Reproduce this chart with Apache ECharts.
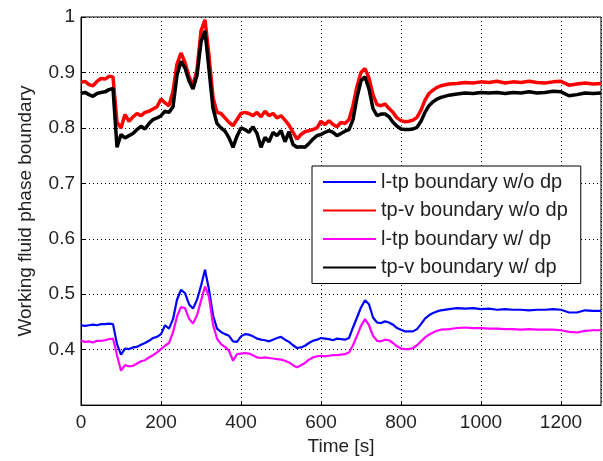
<!DOCTYPE html>
<html>
<head>
<meta charset="utf-8">
<script src="https://cdn.jsdelivr.net/npm/echarts@6/dist/echarts.min.js"></script>
<style>
  html, body { margin: 0; padding: 0; background: #fff; }
  #chart { width: 603px; height: 461px; }
</style>
</head>
<body>
<div id="chart"></div>
<script>
// time axis [s]
const timeS = [
  0, 10, 20, 30, 40, 50, 60, 70, 80, 90,
  100, 110, 120, 130, 140, 150, 160, 170, 180, 190,
  200, 210, 220, 230, 240, 250, 260, 270, 280, 290,
  300, 310, 320, 330, 340, 350, 360, 370, 380, 390,
  400, 410, 420, 430, 440, 450, 460, 470, 480, 490,
  500, 510, 520, 530, 540, 550, 560, 570, 580, 590,
  600, 610, 620, 630, 640, 650, 660, 670, 680, 690,
  700, 710, 720, 730, 740, 750, 760, 770, 780, 790,
  800, 810, 820, 830, 840, 850, 860, 870, 880, 890,
  900,
  920, 940, 960, 980, 1000, 1020, 1040, 1060, 1080, 1100,
  1120, 1140, 1160, 1180, 1200, 1220, 1240, 1260, 1280, 1300
]

// l-tp boundary w/o dp (blue)
const ltpNoDp = [
  0.444, 0.443, 0.444, 0.445, 0.444, 0.446, 0.446, 0.447, 0.446, 0.410,
  0.391, 0.402, 0.401, 0.404, 0.405, 0.409, 0.412, 0.416, 0.421, 0.423,
  0.428, 0.444, 0.438, 0.455, 0.490, 0.508, 0.502, 0.482, 0.474, 0.490,
  0.515, 0.544, 0.508, 0.462, 0.438, 0.432, 0.428, 0.425, 0.415, 0.414,
  0.424, 0.428, 0.427, 0.424, 0.420, 0.418, 0.417, 0.415, 0.418, 0.421,
  0.423, 0.418, 0.414, 0.408, 0.403, 0.404, 0.407, 0.412, 0.416, 0.418,
  0.421, 0.420, 0.419, 0.417, 0.420, 0.419, 0.418, 0.421, 0.440, 0.458,
  0.476, 0.489, 0.482, 0.458, 0.449, 0.448, 0.451, 0.449, 0.445, 0.439,
  0.436, 0.433, 0.433, 0.433, 0.437, 0.446, 0.456, 0.462, 0.466, 0.469,
  0.471,
  0.473, 0.475, 0.474, 0.475, 0.473, 0.474, 0.472, 0.473, 0.472, 0.472,
  0.471, 0.472, 0.472, 0.473, 0.472, 0.467, 0.467, 0.471, 0.470, 0.470
]

// tp-v boundary w/o dp (red)
const tpvNoDp = [
  0.882, 0.884, 0.878, 0.876, 0.884, 0.889, 0.888, 0.893, 0.892, 0.810,
  0.800, 0.824, 0.812, 0.820, 0.826, 0.822, 0.828, 0.830, 0.834, 0.838,
  0.852, 0.845, 0.840, 0.866, 0.915, 0.935, 0.918, 0.893, 0.876, 0.905,
  0.975, 0.995, 0.930, 0.855, 0.828, 0.826, 0.818, 0.810, 0.804, 0.815,
  0.826, 0.828, 0.826, 0.822, 0.828, 0.820, 0.830, 0.822, 0.826, 0.818,
  0.822, 0.814, 0.805, 0.792, 0.780, 0.788, 0.793, 0.795, 0.797, 0.800,
  0.812, 0.806, 0.813, 0.806, 0.802, 0.810, 0.808, 0.815, 0.840, 0.875,
  0.900, 0.907, 0.890, 0.860, 0.842, 0.840, 0.843, 0.835, 0.828, 0.818,
  0.813, 0.811, 0.812, 0.814, 0.819, 0.832, 0.850, 0.862, 0.868, 0.873,
  0.876,
  0.879, 0.880, 0.882, 0.881, 0.883, 0.882, 0.884, 0.881, 0.883, 0.882,
  0.884, 0.882, 0.881, 0.883, 0.884, 0.877, 0.879, 0.881, 0.879, 0.880
]

// l-tp boundary w/ dp (magenta)
const ltpDp = [
  0.416, 0.414, 0.415, 0.413, 0.416, 0.416, 0.417, 0.419, 0.420, 0.390,
  0.362, 0.372, 0.370, 0.371, 0.375, 0.379, 0.381, 0.386, 0.390, 0.395,
  0.401, 0.407, 0.412, 0.431, 0.460, 0.477, 0.475, 0.456, 0.447, 0.462,
  0.488, 0.514, 0.495, 0.445, 0.420, 0.410, 0.405, 0.398, 0.380, 0.392,
  0.393, 0.394, 0.393, 0.390, 0.386, 0.385, 0.386, 0.385, 0.384, 0.383,
  0.382, 0.380, 0.377, 0.372, 0.368, 0.372, 0.376, 0.382, 0.386, 0.388,
  0.389, 0.388, 0.389, 0.390, 0.390, 0.391, 0.392, 0.395, 0.408, 0.425,
  0.443, 0.455, 0.444, 0.425, 0.416, 0.415, 0.418, 0.417, 0.412, 0.406,
  0.402, 0.401, 0.401, 0.403, 0.408, 0.415, 0.422, 0.427, 0.431, 0.434,
  0.436,
  0.437, 0.439, 0.440, 0.439, 0.439, 0.438, 0.438, 0.437, 0.437, 0.436,
  0.437, 0.436, 0.436, 0.436, 0.435, 0.432, 0.431, 0.434, 0.435, 0.435
]

// tp-v boundary w/ dp (black)
const tpvDp = [
  0.862, 0.864, 0.860, 0.857, 0.862, 0.864, 0.865, 0.869, 0.871, 0.765,
  0.788, 0.782, 0.786, 0.790, 0.797, 0.803, 0.798, 0.808, 0.815, 0.818,
  0.822, 0.830, 0.828, 0.838, 0.895, 0.920, 0.908, 0.885, 0.870, 0.895,
  0.955, 0.975, 0.905, 0.835, 0.808, 0.800, 0.794, 0.782, 0.765, 0.785,
  0.800, 0.797, 0.792, 0.802, 0.790, 0.765, 0.783, 0.775, 0.792, 0.786,
  0.795, 0.775, 0.793, 0.770, 0.765, 0.766, 0.765, 0.772, 0.780, 0.786,
  0.788, 0.792, 0.795, 0.792, 0.786, 0.790, 0.794, 0.797, 0.815, 0.855,
  0.885, 0.892, 0.870, 0.835, 0.822, 0.825, 0.825, 0.820, 0.810, 0.803,
  0.798, 0.797, 0.797, 0.798, 0.801, 0.812, 0.828, 0.840, 0.847, 0.852,
  0.855,
  0.859, 0.861, 0.863, 0.862, 0.864, 0.863, 0.864, 0.862, 0.864, 0.863,
  0.865, 0.863, 0.864, 0.866, 0.865, 0.858, 0.860, 0.863, 0.862, 0.863
]

const seriesNames = [
  'l-tp boundary w/o dp',
  'tp-v boundary w/o dp',
  'l-tp boundary w/ dp',
  'tp-v boundary w/ dp'
]
const seriesValues = [ltpNoDp, tpvNoDp, ltpDp, tpvDp]
const seriesColors = ['#0000ff', '#ff0000', '#ff00ff', '#000000']
const seriesWidths = [2.2, 3.5, 2.2, 3.5]

const textColor = '#222'
const fontFamily = 'Liberation Sans, Arial, sans-serif'

const myChart = echarts.init(document.getElementById('chart'))

const dotted = {
  color: '#000',
  width: 1,
  type: [1, 3]
}

// thin horizontal bar, used as the legend sample line
const lineIcon = 'path://M0,0 H53 V2 H0 Z'

const option = {
  animation: false,
  backgroundColor: '#fff',
  grid: {
    left: 81,
    right: 2,
    top: 17,
    bottom: 55,
    show: true,
    borderColor: '#000',
    borderWidth: 1
  },
  legend: {
    orient: 'vertical',
    left: 312,
    top: 166,
    data: seriesNames.map(n => ({ name: n, icon: lineIcon })),
    itemWidth: 53,
    itemHeight: 20,
    itemGap: 8.5,
    padding: [6, 13, 6, 11],
    backgroundColor: '#fff',
    borderColor: '#000',
    borderWidth: 1,
    borderRadius: 0,
    textStyle: { color: textColor, fontSize: 20, fontFamily: fontFamily }
  },
  xAxis: {
    type: 'value',
    min: 0,
    max: 1300,
    interval: 200,
    name: 'Time [s]',
    nameLocation: 'middle',
    nameGap: 30,
    nameTextStyle: { color: textColor, fontSize: 19, fontFamily: fontFamily },
    axisLine: { show: true, lineStyle: { color: '#000', width: 1 } },
    axisTick: { show: true, inside: true, length: 4, lineStyle: { color: '#000' } },
    axisLabel: {
      color: textColor,
      fontSize: 19,
      fontFamily: fontFamily,
      margin: 8,
      showMaxLabel: false,
      formatter: (v) => String(v)
    },
    splitLine: { show: true, lineStyle: dotted }
  },
  yAxis: {
    type: 'value',
    min: 0.3,
    max: 1,
    interval: 0.1,
    name: 'Working fluid phase boundary',
    nameLocation: 'middle',
    nameGap: 46,
    nameTextStyle: { color: textColor, fontSize: 19, fontFamily: fontFamily },
    axisLine: { show: true, lineStyle: { color: '#000', width: 1 } },
    axisTick: { show: true, inside: true, length: 4, lineStyle: { color: '#000' } },
    axisLabel: {
      color: textColor,
      fontSize: 19,
      fontFamily: fontFamily,
      margin: 6,
      showMinLabel: false,
      formatter: (v) => String(Math.round(v * 10) / 10)
    },
    splitLine: { show: true, lineStyle: dotted }
  },
  series: seriesNames.map((name, i) => ({
    name: name,
    type: 'line',
    symbol: 'none',
    data: timeS.map((t, j) => [t, seriesValues[i][j]]),
    lineStyle: { color: seriesColors[i], width: seriesWidths[i] },
    itemStyle: { color: seriesColors[i] },
    z: 2 + i
  }))
}

myChart.setOption(option)
</script>
</body>
</html>
